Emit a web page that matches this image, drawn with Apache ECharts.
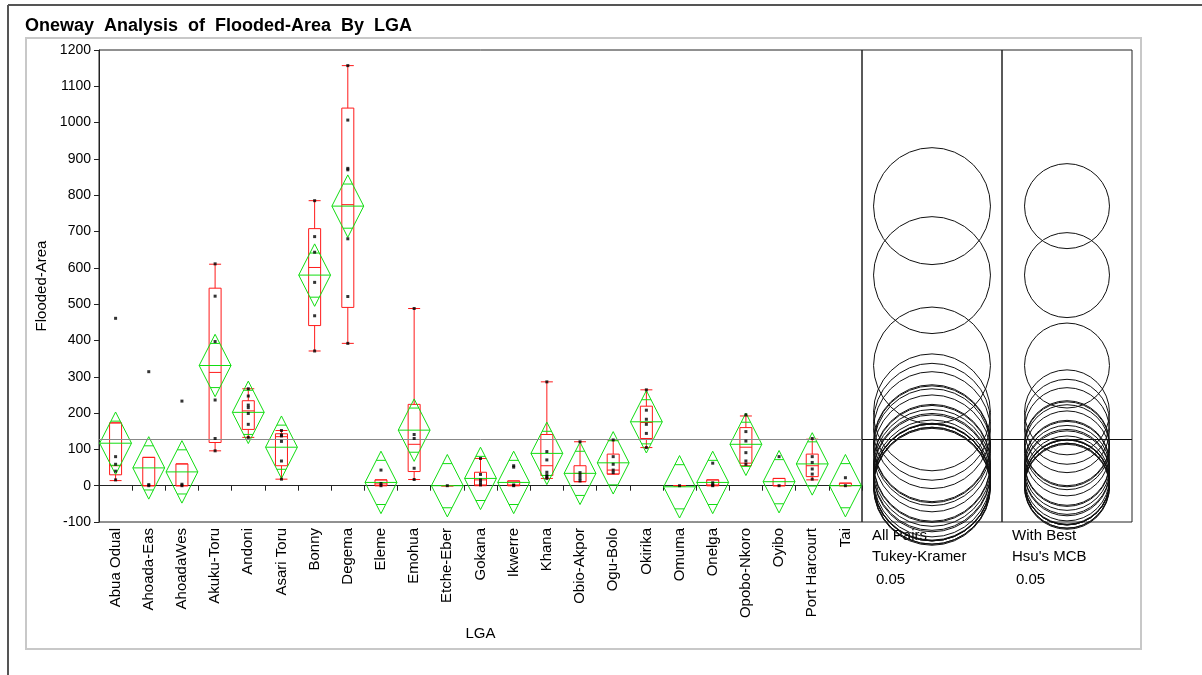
<!DOCTYPE html>
<html>
<head>
<meta charset="utf-8">
<title>Oneway Analysis of Flooded-Area By LGA</title>
<script src="https://cdn.jsdelivr.net/npm/echarts@6/dist/echarts.min.js"></script>
<style>
  html, body { margin: 0; padding: 0; background: #fff; }
  #chart { width: 1202px; height: 675px; }
</style>
</head>
<body>
<div id="chart"></div>
<script>
// LGA groups (labels as printed on the axis)
const categories = ['Abua Odual', 'Ahoada-Eas', 'AhoadaWes', 'Akuku-Toru', 'Andoni', 'Asari Toru',
  'Bonny', 'Degema', 'Eleme', 'Emohua', 'Etche-Eber', 'Gokana', 'Ikwerre', 'Khana', 'Obio-Akpor',
  'Ogu-Bolo', 'Okirika', 'Omuma', 'Onelga', 'Opobo-Nkoro', 'Oyibo', 'Port Harcourt', 'Tai'];

// group means (centre of each means diamond / comparison circle)
const groupMeans = [117, 49, 38, 331, 202, 106, 580, 770, 9, 153, 0, 20, 9, 89, 34, 63, 176, -3, 9, 114, 11, 60, 0];

// 95% confidence half-width of each mean (pooled, equal group sizes)
const ciHalfWidths = [86, 86, 86, 86, 86, 86, 86, 86, 86, 86, 86, 86, 86, 86, 86, 86, 86, 86, 86, 86, 86, 86, 86];

// grand mean of Flooded-Area
const grandMean = 127;

// outlier box plot: [lower whisker, Q1, median, Q3, upper whisker]
const boxStats = [
  [14, 30, 55, 173, 173],
  [0, 0, 0, 78, 78],
  [0, 0, 0, 60, 60],
  [96, 119, 312, 544, 610],
  [133, 155, 206, 234, 267],
  [18, 55, 135, 143, 152],
  [371, 441, 601, 708, 785],
  [392, 491, 774, 1040, 1157],
  [0, 0, 5, 16, 16],
  [17, 39, 114, 224, 488],
  [0, 0, 0, 0, 0],
  [0, 2, 16, 37, 75],
  [0, 0, 2, 13, 13],
  [20, 28, 55, 141, 286],
  [11, 11, 34, 55, 121],
  [32, 32, 43, 87, 126],
  [105, 130, 174, 219, 264],
  [0, 0, 0, 0, 0],
  [0, 0, 2, 16, 16],
  [55, 62, 106, 160, 192],
  [0, 0, 0, 20, 20],
  [16, 25, 55, 87, 128],
  [0, 0, 0, 7, 7]
];

// individual observations per LGA
const observations = [
  [461, 80, 59, 40, 16],
  [314, 3, 0],
  [233, 4, 0],
  [611, 522, 397, 236, 130, 96],
  [267, 247, 222, 215, 199, 169, 133],
  [152, 140, 137, 122, 68, 18],
  [785, 686, 643, 560, 468, 371],
  [1157, 1007, 874, 870, 680, 521, 392],
  [43, 6, 0],
  [488, 141, 130, 48, 17],
  [0],
  [75, 31, 16, 9, 2],
  [55, 51, 2, 0],
  [286, 94, 71, 37, 29, 25, 20],
  [121, 36, 28, 20, 13],
  [126, 80, 59, 43, 36],
  [264, 208, 183, 169, 144, 105],
  [0],
  [62, 8, 2, 0],
  [195, 149, 123, 91, 68, 59],
  [80, 0],
  [130, 80, 64, 46, 32, 18],
  [22, 0]
];

// comparison circle radii (in Flooded-Area units)
const tukeyRadius = 161;
const hsuRadius = 117;

const yTicks = { min: -100, max: 1200, step: 100 };

const FONT = "'Liberation Sans', Arial, sans-serif";
const RED = '#ff1a1a';
const GREEN = '#11dd11';
const FRAME = '#222';

const diamondData = groupMeans.map((m, i) => [i, m, ciHalfWidths[i]]);
const pointData = [];
observations.forEach((vals, i) => vals.forEach(v => pointData.push([i, v])));
const circleData = groupMeans.map(m => [0.5, m]);

const greenStroke = () => ({ stroke: GREEN, lineWidth: 1, fill: 'none' });
const seg = (x1, y1, x2, y2, style) => ({ type: 'line', shape: { x1, y1, x2, y2 }, style });

// means diamond with mean line and overlap marks
function renderDiamond(params, api) {
  const i = api.value(0), m = api.value(1), ci = api.value(2);
  const band = api.size([1, 0])[0];
  const c = api.coord([i, m]);
  const cx = c[0], cy = c[1];
  const top = api.coord([i, m + ci])[1];
  const bot = api.coord([i, m - ci])[1];
  const half = band * 0.48;
  const ov = ci / Math.SQRT2;
  const oTop = api.coord([i, m + ov])[1];
  const oBot = api.coord([i, m - ov])[1];
  const oh = half * (1 - 1 / Math.SQRT2);
  return {
    type: 'group',
    children: [
      { type: 'polygon', shape: { points: [[cx, top], [cx + half, cy], [cx, bot], [cx - half, cy]] }, style: greenStroke() },
      seg(cx - half, cy, cx + half, cy, greenStroke()),
      seg(cx - oh, oTop, cx + oh, oTop, greenStroke()),
      seg(cx - oh, oBot, cx + oh, oBot, greenStroke())
    ]
  };
}

function circleRenderer(radius) {
  return function (params, api) {
    const c = api.coord([api.value(0), api.value(1)]);
    const r = api.size([0, radius])[1];
    return { type: 'circle', shape: { cx: c[0], cy: c[1], r: r }, style: { stroke: '#111', lineWidth: 1, fill: 'none' } };
  };
}

const meanLine = (color) => ({
  silent: true, symbol: 'none', label: { show: false },
  lineStyle: { color: color, width: 1, type: 'solid' },
  emphasis: { disabled: true },
  data: [{ yAxis: grandMean }]
});

const hiddenY = (g) => ({ type: 'value', gridIndex: g, min: yTicks.min, max: yTicks.max, show: false });
const hiddenX = (g) => ({ type: 'value', gridIndex: g, min: 0, max: 1, show: false });
const txt = "15px 'Liberation Sans', Arial, sans-serif";

const chart = echarts.init(document.getElementById('chart'), null, { renderer: 'canvas' });
chart.setOption({
  animation: false,
  backgroundColor: '#fff',
  textStyle: { fontFamily: FONT },
  tooltip: { show: false },
  grid: [
    { left: 99, top: 50, width: 763, height: 472, show: true, borderColor: FRAME, borderWidth: 1, backgroundColor: 'transparent' },
    { left: 862, top: 50, width: 140, height: 472, show: true, borderColor: FRAME, borderWidth: 1, backgroundColor: 'transparent' },
    { left: 1002, top: 50, width: 130, height: 472, show: true, borderColor: FRAME, borderWidth: 1, backgroundColor: 'transparent' }
  ],
  xAxis: [
    {
      type: 'category', gridIndex: 0, data: categories, boundaryGap: true,
      axisLine: { show: true, lineStyle: { color: FRAME } },
      axisTick: { show: true, interval: 0, length: 5, lineStyle: { color: FRAME } },
      axisLabel: { interval: 0, rotate: 90, fontSize: 15, color: '#000', margin: 6, fontFamily: FONT },
      splitLine: { show: false },
      name: 'LGA', nameLocation: 'middle', nameGap: 99,
      nameTextStyle: { fontSize: 15, color: '#000', fontFamily: FONT }
    },
    hiddenX(1),
    hiddenX(2)
  ],
  yAxis: [
    {
      type: 'value', gridIndex: 0, min: yTicks.min, max: yTicks.max, interval: yTicks.step,
      axisLine: { show: true, lineStyle: { color: FRAME } },
      axisTick: { show: true, length: 5, lineStyle: { color: FRAME } },
      axisLabel: { fontSize: 14, color: '#000', margin: 8, fontFamily: FONT, formatter: v => String(v) },
      splitLine: { show: false },
      name: 'Flooded-Area', nameLocation: 'middle', nameGap: 43, nameRotate: 90,
      nameTextStyle: { fontSize: 15, color: '#000', fontFamily: FONT }
    },
    hiddenY(1),
    hiddenY(2)
  ],
  graphic: [
    { type: 'line', shape: { x1: 8, y1: 5, x2: 1202, y2: 5 }, style: { stroke: '#555', lineWidth: 2 } },
    { type: 'line', shape: { x1: 8, y1: 5, x2: 8, y2: 675 }, style: { stroke: '#555', lineWidth: 2 } },
    { type: 'rect', shape: { x: 26, y: 38, width: 1115, height: 611 }, style: { stroke: '#c8c8c8', lineWidth: 2, fill: 'none' } },
    { type: 'text', left: 25, top: 17, style: { text: 'Oneway  Analysis  of  Flooded-Area  By  LGA', font: "bold 18px 'Liberation Sans', Arial, sans-serif", fill: '#000' } },
    { type: 'text', left: 872, top: 528, style: { text: 'All Pairs', font: txt, fill: '#000' } },
    { type: 'text', left: 872, top: 549, style: { text: 'Tukey-Kramer', font: txt, fill: '#000' } },
    { type: 'text', left: 876, top: 572, style: { text: '0.05', font: txt, fill: '#000' } },
    { type: 'text', left: 1012, top: 528, style: { text: 'With Best', font: txt, fill: '#000' } },
    { type: 'text', left: 1012, top: 549, style: { text: "Hsu's MCB", font: txt, fill: '#000' } },
    { type: 'text', left: 1016, top: 572, style: { text: '0.05', font: txt, fill: '#000' } }
  ],
  series: [
    {
      type: 'boxplot', name: 'Box plots', xAxisIndex: 0, yAxisIndex: 0, z: 3,
      data: boxStats,
      boxWidth: [12, 12],
      itemStyle: { color: 'rgba(255,255,255,0)', borderColor: RED, borderWidth: 1 },
      emphasis: { disabled: true },
      silent: true,
      markLine: meanLine('#888')
    },
    {
      type: 'custom', name: 'Means diamonds', xAxisIndex: 0, yAxisIndex: 0, z: 4,
      renderItem: renderDiamond, data: diamondData, silent: true,
      encode: { x: 0, y: [1] }
    },
    {
      type: 'scatter', name: 'Flooded-Area', xAxisIndex: 0, yAxisIndex: 0, z: 5,
      symbol: 'rect', symbolSize: 3, itemStyle: { color: '#000' }, silent: true,
      data: pointData
    },
    {
      type: 'custom', name: 'Tukey-Kramer', xAxisIndex: 1, yAxisIndex: 1, z: 3, clip: false, silent: true,
      renderItem: circleRenderer(tukeyRadius), data: circleData,
      encode: { x: 0, y: 1 },
      markLine: meanLine('#111')
    },
    {
      type: 'custom', name: "Hsu's MCB", xAxisIndex: 2, yAxisIndex: 2, z: 3, clip: false, silent: true,
      renderItem: circleRenderer(hsuRadius), data: circleData,
      encode: { x: 0, y: 1 },
      markLine: meanLine('#111')
    }
  ]
});
</script>
</body>
</html>
